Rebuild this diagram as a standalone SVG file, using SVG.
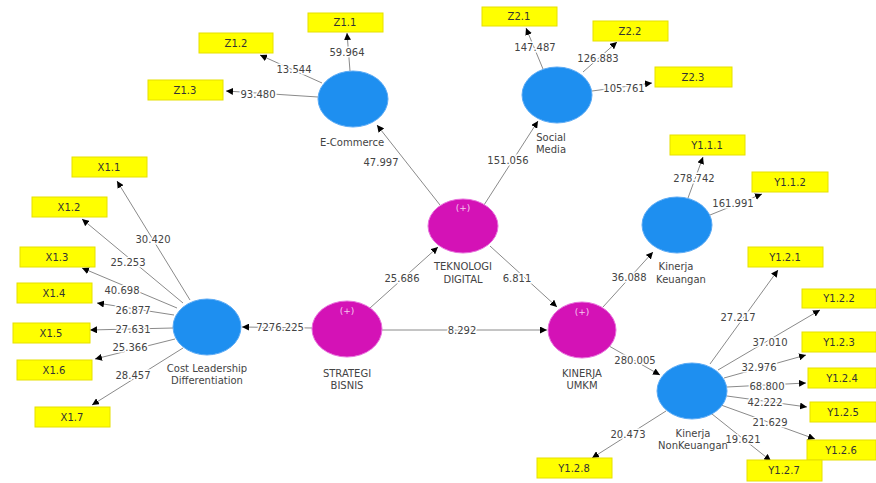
<svg xmlns="http://www.w3.org/2000/svg" width="876" height="483" viewBox="0 0 876 483">
<style>
.bg{fill:#fff}
.c line{stroke:#8a8a8a;stroke-width:1;marker-end:url(#ah)}
.lbl{font-family:"DejaVu Sans","Liberation Sans",sans-serif;font-size:10px;fill:#444;text-anchor:middle;stroke:#fff;stroke-width:3;paint-order:stroke;dominant-baseline:central}
.ind rect{fill:#ffff00;stroke:#e6e000;stroke-width:1}
.ind text{font-family:"DejaVu Sans","Liberation Sans",sans-serif;font-size:10px;fill:#333;text-anchor:middle;dominant-baseline:central}
.lv ellipse{fill:#1e8ff0;stroke:#5aaaf5;stroke-width:1}
.mv ellipse{fill:#d412b6;stroke:#e870dc;stroke-width:1}
.nt{font-family:"DejaVu Sans","Liberation Sans",sans-serif;font-size:10px;fill:#444;text-anchor:middle}
.pl{font-family:"DejaVu Sans","Liberation Sans",sans-serif;font-size:9px;fill:#f4c8ee;text-anchor:middle}
</style>
<defs>
<marker id="ah" viewBox="0 0 10 10" refX="10" refY="5" markerWidth="7" markerHeight="7" orient="auto" markerUnits="userSpaceOnUse">
<path d="M0,0 L10,5 L0,10 z" fill="#000"/>
</marker>
</defs>
<rect class="bg" width="876" height="483"/>
<g id="connectors" class="c">
<line x1="350" y1="71" x2="347" y2="33"/>
<line x1="322" y1="83" x2="260" y2="55"/>
<line x1="318" y1="97" x2="226" y2="91"/>
<line x1="543" y1="69" x2="526" y2="28"/>
<line x1="583" y1="72" x2="617" y2="42"/>
<line x1="592" y1="91" x2="652" y2="83"/>
<line x1="440" y1="205" x2="377" y2="125"/>
<line x1="484" y1="205" x2="538" y2="121"/>
<line x1="370" y1="308" x2="438" y2="247"/>
<line x1="490" y1="246" x2="557" y2="307"/>
<line x1="382" y1="330" x2="547" y2="330"/>
<line x1="312" y1="328" x2="242" y2="327"/>
<line x1="603" y1="307" x2="653" y2="252"/>
<line x1="609" y1="346" x2="660" y2="375"/>
<line x1="688" y1="198" x2="703" y2="157"/>
<line x1="710" y1="215" x2="762" y2="194"/>
<line x1="710" y1="364" x2="778" y2="270"/>
<line x1="718" y1="370" x2="820" y2="310"/>
<line x1="724" y1="378" x2="806" y2="355"/>
<line x1="727" y1="387" x2="806" y2="383"/>
<line x1="727" y1="396" x2="807" y2="407"/>
<line x1="721" y1="405" x2="815" y2="439"/>
<line x1="712" y1="414" x2="771" y2="461"/>
<line x1="666" y1="411" x2="592" y2="458"/>
<line x1="190" y1="300" x2="117" y2="181"/>
<line x1="183" y1="303" x2="82" y2="219"/>
<line x1="177" y1="308" x2="82" y2="268"/>
<line x1="174" y1="315" x2="97" y2="303"/>
<line x1="173" y1="328" x2="90" y2="330"/>
<line x1="175" y1="339" x2="95" y2="359"/>
<line x1="183" y1="348" x2="92" y2="405"/>
</g>
<g id="labels">
<text class="lbl" x="347" y="52">59.964</text>
<text class="lbl" x="294" y="69">13.544</text>
<text class="lbl" x="258" y="94">93.480</text>
<text class="lbl" x="535" y="47">147.487</text>
<text class="lbl" x="598" y="58">126.883</text>
<text class="lbl" x="624" y="88">105.761</text>
<text class="lbl" x="381" y="162">47.997</text>
<text class="lbl" x="508" y="160">151.056</text>
<text class="lbl" x="402" y="278">25.686</text>
<text class="lbl" x="517" y="278">6.811</text>
<text class="lbl" x="462" y="330">8.292</text>
<text class="lbl" x="280" y="327">7276.225</text>
<text class="lbl" x="629" y="277">36.088</text>
<text class="lbl" x="635" y="360">280.005</text>
<text class="lbl" x="694" y="178">278.742</text>
<text class="lbl" x="733" y="203">161.991</text>
<text class="lbl" x="738" y="317">27.217</text>
<text class="lbl" x="770" y="342">37.010</text>
<text class="lbl" x="759" y="367">32.976</text>
<text class="lbl" x="767" y="386">68.800</text>
<text class="lbl" x="765" y="402">42.222</text>
<text class="lbl" x="770" y="422">21.629</text>
<text class="lbl" x="743" y="439">19.621</text>
<text class="lbl" x="628" y="434">20.473</text>
<text class="lbl" x="153" y="239">30.420</text>
<text class="lbl" x="128" y="262">25.253</text>
<text class="lbl" x="122" y="290">40.698</text>
<text class="lbl" x="133" y="310">26.877</text>
<text class="lbl" x="133" y="329">27.631</text>
<text class="lbl" x="130" y="347">25.366</text>
<text class="lbl" x="133" y="375">28.457</text>
</g>
<g id="E-Commerce" class="lv"><ellipse cx="353" cy="99" rx="35" ry="28"/><text class="nt" x="352" y="146">E-Commerce</text></g>
<g id="Social-Media" class="lv"><ellipse cx="557" cy="95" rx="35" ry="28"/><text class="nt" x="551" y="141">Social</text><text class="nt" x="551" y="153">Media</text></g>
<g id="Kinerja-Keuangan" class="lv"><ellipse cx="677" cy="225" rx="35" ry="28"/><text class="nt" x="676" y="270">Kinerja</text><text class="nt" x="681" y="283">Keuangan</text></g>
<g id="Kinerja-NonKeuangan" class="lv"><ellipse cx="692" cy="391" rx="35" ry="28"/><text class="nt" x="693" y="437">Kinerja</text><text class="nt" x="693" y="449">NonKeuangan</text></g>
<g id="Cost-Leadership" class="lv"><ellipse cx="207" cy="327" rx="34" ry="28"/><text class="nt" x="207" y="372">Cost Leadership</text><text class="nt" x="207" y="384">Differentiation</text></g>
<g id="Teknologi-Digital" class="mv"><ellipse cx="463" cy="226" rx="35" ry="27"/><text class="pl" x="463" y="211">(+)</text><text class="nt" x="463" y="270">TEKNOLOGI</text><text class="nt" x="463" y="283">DIGITAL</text></g>
<g id="Strategi-Bisnis" class="mv"><ellipse cx="347" cy="329" rx="35" ry="28"/><text class="pl" x="347" y="314">(+)</text><text class="nt" x="347" y="377">STRATEGI</text><text class="nt" x="347" y="389">BISNIS</text></g>
<g id="Kinerja-UMKM" class="mv"><ellipse cx="582" cy="330" rx="34" ry="28"/><text class="pl" x="582" y="315">(+)</text><text class="nt" x="582" y="377">KINERJA</text><text class="nt" x="582" y="389">UMKM</text></g>
<g id="Z1.1" class="ind"><rect x="308" y="13" width="75" height="19"/><text x="345" y="22.5">Z1.1</text></g>
<g id="Z1.2" class="ind"><rect x="199" y="33" width="74" height="20"/><text x="236" y="43">Z1.2</text></g>
<g id="Z1.3" class="ind"><rect x="148" y="80" width="75" height="20"/><text x="185" y="90">Z1.3</text></g>
<g id="Z2.1" class="ind"><rect x="482" y="7" width="75" height="19"/><text x="519" y="16.5">Z2.1</text></g>
<g id="Z2.2" class="ind"><rect x="593" y="21" width="75" height="20"/><text x="630" y="31">Z2.2</text></g>
<g id="Z2.3" class="ind"><rect x="655" y="67" width="77" height="20"/><text x="693" y="77">Z2.3</text></g>
<g id="Y1.1.1" class="ind"><rect x="670" y="135" width="75" height="20"/><text x="707" y="145">Y1.1.1</text></g>
<g id="Y1.1.2" class="ind"><rect x="752" y="172" width="76" height="20"/><text x="790" y="182">Y1.1.2</text></g>
<g id="Y1.2.1" class="ind"><rect x="748" y="247" width="75" height="20"/><text x="785" y="257">Y1.2.1</text></g>
<g id="Y1.2.2" class="ind"><rect x="802" y="289" width="74" height="19"/><text x="839" y="298.5">Y1.2.2</text></g>
<g id="Y1.2.3" class="ind"><rect x="802" y="332" width="74" height="20"/><text x="839" y="342">Y1.2.3</text></g>
<g id="Y1.2.4" class="ind"><rect x="808" y="368" width="68" height="20"/><text x="842" y="378">Y1.2.4</text></g>
<g id="Y1.2.5" class="ind"><rect x="810" y="402" width="66" height="20"/><text x="843" y="412">Y1.2.5</text></g>
<g id="Y1.2.6" class="ind"><rect x="807" y="440" width="69" height="20"/><text x="841" y="450">Y1.2.6</text></g>
<g id="Y1.2.7" class="ind"><rect x="747" y="460" width="75" height="21"/><text x="784" y="470.5">Y1.2.7</text></g>
<g id="Y1.2.8" class="ind"><rect x="537" y="458" width="75" height="20"/><text x="574" y="468">Y1.2.8</text></g>
<g id="X1.1" class="ind"><rect x="72" y="157" width="75" height="20"/><text x="109" y="167">X1.1</text></g>
<g id="X1.2" class="ind"><rect x="32" y="197" width="75" height="20"/><text x="69" y="207">X1.2</text></g>
<g id="X1.3" class="ind"><rect x="20" y="247" width="75" height="20"/><text x="57" y="257">X1.3</text></g>
<g id="X1.4" class="ind"><rect x="17" y="283" width="75" height="20"/><text x="54" y="293">X1.4</text></g>
<g id="X1.5" class="ind"><rect x="13" y="323" width="77" height="20"/><text x="51" y="333">X1.5</text></g>
<g id="X1.6" class="ind"><rect x="17" y="360" width="75" height="20"/><text x="54" y="370">X1.6</text></g>
<g id="X1.7" class="ind"><rect x="35" y="407" width="75" height="20"/><text x="72" y="417">X1.7</text></g>
</svg>
